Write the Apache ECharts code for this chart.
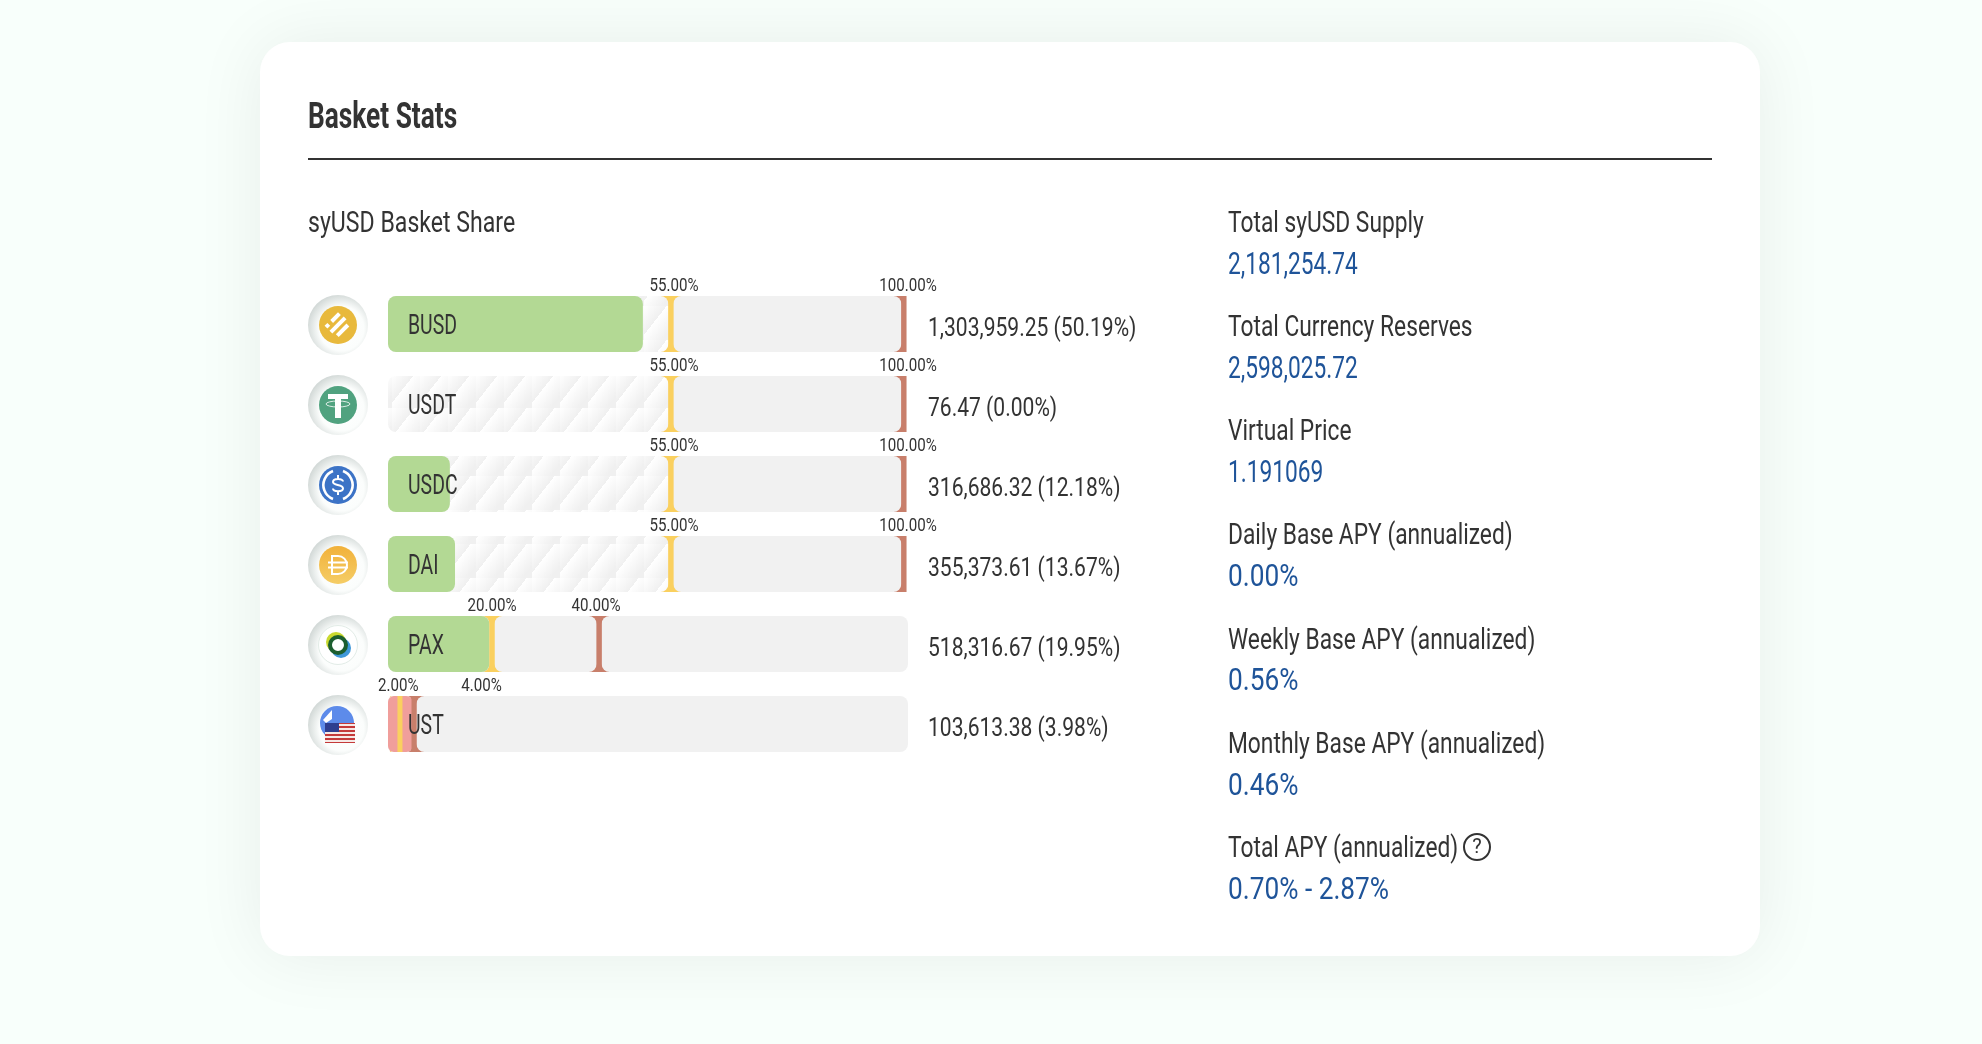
<!DOCTYPE html>
<html>
<head>
<meta charset="utf-8">
<title>Basket Stats</title>
<style>
  html, body { margin: 0; padding: 0; background: #f8fffb; }
  #chart { width: 1982px; height: 1044px; }
</style>
<script src="https://cdn.jsdelivr.net/npm/echarts@6/dist/echarts.min.js"></script>
</head>
<body>
<div id="chart"></div>
<script>
// values
const coins = ['BUSD', 'USDT', 'USDC', 'DAI', 'PAX', 'UST'];
const fillShare = [50.19, 0, 12.18, 13.2, 19.95, 4.8];
const lowLimitAt = [54.4, 54.4, 54.4, 54.4, 20, 2.3];
const highLimitAt = [99.2, 99.2, 99.2, 99.2, 40.6, 5];
const lowLabels = ['55.00%', '55.00%', '55.00%', '55.00%', '20.00%', '2.00%'];
const highLabels = ['100.00%', '100.00%', '100.00%', '100.00%', '40.00%', '4.00%'];
const lowLabelAt = [55, 55, 55, 55, 20, 2];
const highLabelAt = [100, 100, 100, 100, 40, 18];
const amounts = ['1,303,959.25 (50.19%)', '76.47 (0.00%)', '316,686.32 (12.18%)', '355,373.61 (13.67%)', '518,316.67 (19.95%)', '103,613.38 (3.98%)'];
const hatched = [true, true, true, true, false, false];
const statNames = ['Total syUSD Supply', 'Total Currency Reserves', 'Virtual Price', 'Daily Base APY (annualized)', 'Weekly Base APY (annualized)', 'Monthly Base APY (annualized)', 'Total APY (annualized)'];
const statValues = ['2,181,254.74', '2,598,025.72', '1.191069', '0.00%', '0.56%', '0.46%', '0.70% - 2.87%'];

const FONT = 'Roboto, "Open Sans", sans-serif';
const DARK = '#333333', BLUE = '#1f5499', GREEN = '#b3d994', PINK = '#f09e9b';
const YELLOW = '#fad05f', BROWN = '#c87f6b', GRAY = '#f1f1f1';

// diagonal stripe tile for the part of the track under the first limit
function hatchTile() {
  const c = document.createElement('canvas');
  c.width = 28; c.height = 34;
  const ctx = c.getContext('2d');
  const g = ctx.createLinearGradient(0, 0, 28, 22);
  [[0, '#ffffff'], [0.5, '#f0f0f0'], [0.5, '#ffffff'], [1, '#f0f0f0']].forEach(s => g.addColorStop(s[0], s[1]));
  ctx.fillStyle = g;
  ctx.fillRect(0, 0, 28, 34);
  return c;
}
const hatch = { image: hatchTile(), repeat: 'repeat' };

function label(text, x, y, size, fill, sx, extra) {
  return {
    type: 'text', x: x, y: y, scaleX: sx, silent: true,
    style: Object.assign({ text: text, fill: fill, fontFamily: FONT, fontSize: size, textAlign: 'left', textVerticalAlign: 'middle' }, extra || {})
  };
}
function stroked(d, w, x, y) {
  return { type: 'path', x: x, y: y, shape: { pathData: d }, style: { fill: 'none', stroke: '#fff', lineWidth: w } };
}
function disc(x, y, r, fill, extra) {
  return { type: 'circle', shape: { cx: x, cy: y, r: r }, style: Object.assign({ fill: fill }, extra || {}) };
}
function bar(x, y, w, h, fill, r) {
  return { type: 'rect', shape: { x: x, y: y, width: w, height: h, r: r || 0 }, style: { fill: fill } };
}

function coinGlyph(i, x, y) {
  const kids = [];
  if (i === 0) {
    kids.push(disc(x, y, 19, '#e8b93c'));
    kids.push({
      type: 'group', x: x, y: y, rotation: Math.PI / 4,
      children: [bar(-2, -9, 11, 4, '#fff'), bar(-10, -9, 4, 4, '#fff'), bar(-10, -2, 20, 4, '#fff'), bar(-8, 5, 15, 4, '#fff')]
    });
  } else if (i === 1) {
    kids.push(disc(x, y, 19, '#50a27f'));
    kids.push({ type: 'path', x: x, y: y, shape: { pathData: 'M-10,-11H10V-6H3V13H-3V-6H-10Z' }, style: { fill: '#fff' } });
    kids.push(stroked('M-12,-1a12,3 0 1,0 24,0a12,3 0 1,0 -24,0', 0.8, x, y));
  } else if (i === 2) {
    kids.push(disc(x, y, 19, '#3c73c6'));
    kids.push(stroked('M-5,-14A15,15 0 0 0 -5,14M5,-14A15,15 0 0 1 5,14', 2.6, x, y));
    kids.push(stroked('M5,-3.5C5,-7 -5,-7 -5,-3C-5,1 5,-1 5,3.5C5,7 -5,7 -5,3.5M0,-10V-6.5M0,6.5V10', 2, x, y));
  } else if (i === 3) {
    kids.push(disc(x, y, 19, { type: 'linear', x: 0, y: 0, x2: 0, y2: 1, colorStops: [{ offset: 0, color: '#f1b13a' }, { offset: 1, color: '#f5cd66' }] }));
    kids.push(stroked('M-6,-9H0A9,9 0 0 1 0,9H-6ZM-10,-2.5H10M-10,2.5H10', 2, x, y));
  } else if (i === 4) {
    kids.push(disc(x, y, 19.5, '#fff', { stroke: '#e2ece7', lineWidth: 1 }));
    kids.push(disc(x - 2, y - 3, 10, '#c9d92f'));
    kids.push(disc(x + 3, y + 3, 10, '#3f97d9'));
    kids.push(disc(x, y, 8, '#fff', { stroke: '#1c5e2f', lineWidth: 4 }));
  } else {
    kids.push(disc(x - 1, y - 2, 17, '#5d8bea'));
    kids.push({ type: 'path', x: x, y: y, shape: { pathData: 'M-15,-5L-6,-15L-6,-6L-12,-2Z' }, style: { fill: '#fff' } });
    kids.push(bar(x - 13, y - 2, 30, 20, '#c43a3a'));
    [1, 5, 9, 13, 17].forEach(k => kids.push(bar(x - 13, y - 2 + k, 30, 2, '#f6e9e6')));
    kids.push(bar(x - 13, y - 2, 14, 9, '#2e3e8f'));
  }
  return kids;
}

// icon, track, first layer of both limits
function renderTrack(params, api) {
  const i = params.dataIndex;
  const cy = api.coord([0, i])[1];
  const x0 = api.coord([0, i])[0];
  const end = api.coord([100, i])[0];
  const low = api.coord([lowLimitAt[i], i])[0];
  const high = api.coord([highLimitAt[i], i])[0];
  const top = cy - 28, H = 56, half = 2.5, R = 8;
  const kids = [];

  kids.push(disc(x0 - 50, cy + 1, 30, {
    type: 'radial', x: 0.56, y: 0.56, r: 0.6,
    colorStops: [{ offset: 0, color: '#ffffff' }, { offset: 0.62, color: '#fbfdfc' }, { offset: 1, color: '#ced5d3' }]
  }));
  coinGlyph(i, x0 - 50, cy + 1).forEach(k => kids.push(k));

  kids.push(bar(low - 10, top, 20, H, YELLOW));
  kids.push(bar(high - 10, top, Math.min(high + 10, end - 1.7) - high + 10, H, BROWN));
  kids.push(bar(x0, top, low - half - x0, H, hatched[i] ? hatch : GRAY, R));
  kids.push(bar(low + half, top, high - half - low - half, H, GRAY, R));
  if (end - high > 10) kids.push(bar(high + half, top, end - high - half, H, GRAY, R));
  return { type: 'group', children: kids };
}

// limit strokes, texts
function renderLabels(params, api) {
  const i = params.dataIndex;
  const cy = api.coord([0, i])[1];
  const x0 = api.coord([0, i])[0];
  const end = api.coord([100, i])[0];
  const low = api.coord([lowLimitAt[i], i])[0];
  const high = api.coord([highLimitAt[i], i])[0];
  const top = cy - 28, H = 56;
  const kids = [
    bar(low - 2.5, top, 5, H, YELLOW),
    bar(high - 2.5, top, 5, H, BROWN),
    label(coins[i], x0 + 20, cy + 3, 27, DARK, 0.72),
    label(amounts[i], end + 20, cy + 5, 26, DARK, 0.81)
  ];
  const a = label(lowLabels[i], api.coord([lowLabelAt[i], i])[0], cy - 37.5, 18, DARK, 0.84, { textAlign: 'center' });
  const b = label(highLabels[i], api.coord([highLabelAt[i], i])[0], cy - 37.5, 18, DARK, 0.84, { textAlign: 'center' });
  kids.push(a, b);
  return { type: 'group', children: kids };
}

const chrome = [
  { type: 'rect', shape: { x: 260, y: 42, width: 1500, height: 914, r: 30 }, style: { fill: '#fff', shadowBlur: 70, shadowColor: 'rgba(0,0,0,0.07)' }, silent: true },
  { type: 'rect', shape: { x: 308, y: 158, width: 1404, height: 2 }, style: { fill: DARK } },
  label('Basket Stats', 308, 118.5, 37, DARK, 0.71, { fontWeight: 'bold' }),
  label('syUSD Basket Share', 308, 224.5, 30, DARK, 0.77)
];
statNames.forEach((name, k) => {
  chrome.push(label(name, 1228, 224.5 + 104.2 * k, 29, DARK, 0.785));
  const isPercent = statValues[k].indexOf('%') >= 0;
  chrome.push(label(statValues[k], 1228, 265.5 + 104.2 * k, 32, BLUE, isPercent ? 0.82 : 0.71));
});
chrome.push({ type: 'circle', shape: { cx: 1477, cy: 847, r: 13 }, style: { fill: 'none', stroke: DARK, lineWidth: 2 } });
chrome.push(label('?', 1477, 848, 20, DARK, 1, { textAlign: 'center' }));

const chart = echarts.init(document.getElementById('chart'));
chart.setOption({
  animation: false,
  backgroundColor: '#f8fffb',
  graphic: { elements: chrome },
  grid: { left: 388, top: 284, width: 520, height: 480, containLabel: false },
  xAxis: [
    { type: 'value', min: 0, max: 100, show: false },
    { type: 'value', min: 0, max: 102.4, show: false }
  ],
  yAxis: { type: 'category', inverse: true, data: coins, show: false },
  series: [
    { type: 'custom', name: 'track', z: 2, xAxisIndex: 0, yAxisIndex: 0, renderItem: renderTrack, data: coins.map((c, i) => [0, i]), encode: { x: 0, y: 1 }, silent: true },
    {
      type: 'bar', name: 'share', z: 3, xAxisIndex: 1, yAxisIndex: 0, barWidth: 56, silent: true,
      data: fillShare.map((v, i) => ({ value: v, itemStyle: { color: coins[i] === 'UST' ? PINK : GREEN, borderRadius: coins[i] === 'UST' ? 6 : 8 } }))
    },
    { type: 'custom', name: 'limits', z: 4, xAxisIndex: 0, yAxisIndex: 0, renderItem: renderLabels, data: coins.map((c, i) => [0, i]), encode: { x: 0, y: 1 }, silent: true }
  ]
});
</script>
</body>
</html>
